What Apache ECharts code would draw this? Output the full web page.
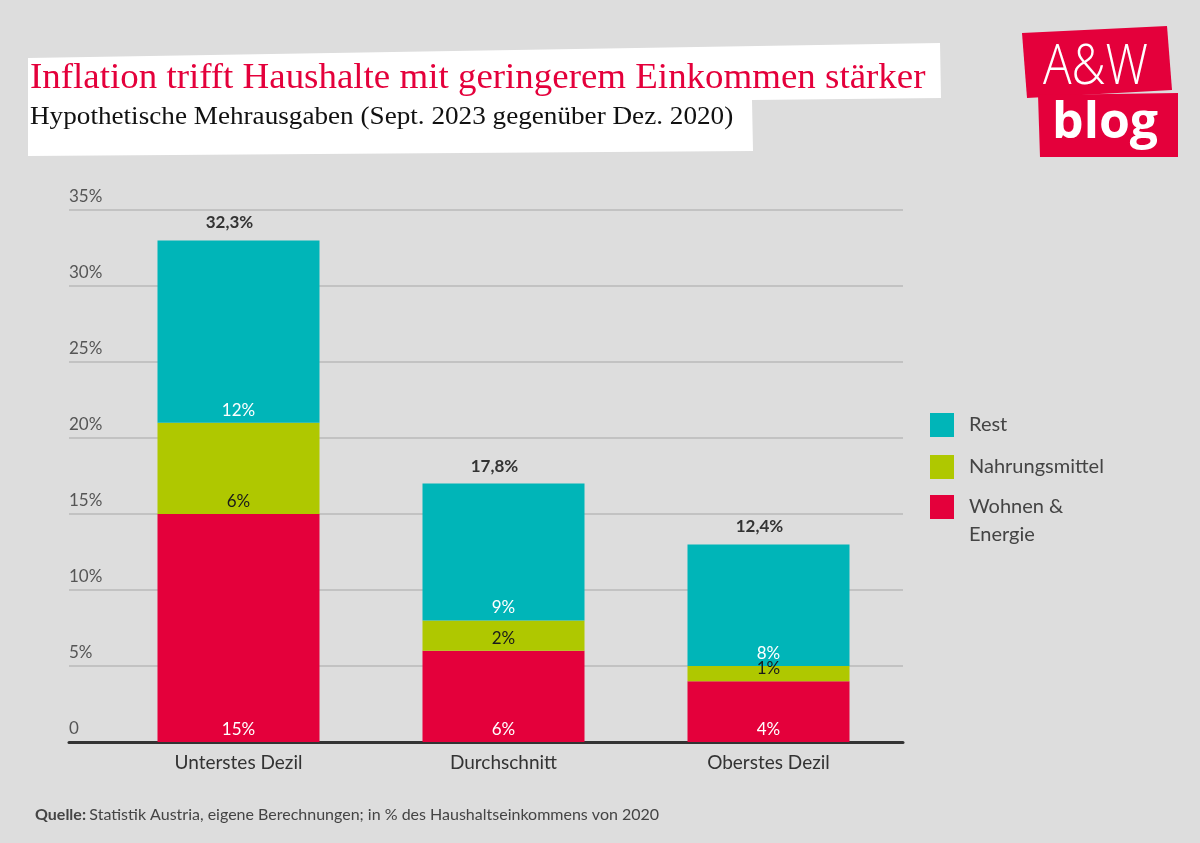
<!DOCTYPE html>
<html>
<head>
<meta charset="utf-8">
<script src="https://cdn.jsdelivr.net/npm/echarts@6/dist/echarts.min.js"></script>
<style>
html,body{margin:0;padding:0;background:#dddddd;}
#c{width:1200px;height:843px;}
</style>
</head>
<body>
<div id="c"></div>
<script>
const categories = ['Unterstes Dezil', 'Durchschnitt', 'Oberstes Dezil'];
const wohnenEnergie = [15, 6, 4];
const nahrungsmittel = [6, 2, 1];
const rest = [12, 9, 8];
const totals = [32.3, 17.8, 12.4];
const yTicks = [0, 5, 10, 15, 20, 25, 30, 35];

const FONT = 'Lato';
const RED = '#e4003b', GREEN = '#afc800', TEAL = '#00b5b8';

const chart = echarts.init(document.getElementById('c'), null, {renderer: 'canvas'});

function segLabel(color) {
  return {
    show: true, position: 'insideBottom', distance: 4,
    color: color, fontFamily: FONT, fontSize: 17,
    formatter: p => p.value + '%'
  };
}

const option = {
  backgroundColor: '#dddddd',
  animation: false,
  textStyle: {fontFamily: FONT},
  grid: [
    {left: 69, right: 297, top: 210, bottom: 101},
    {left: 106, right: 299, top: 210, bottom: 101}
  ],
  xAxis: [
    {gridIndex: 0, type: 'category', data: [''], axisLine: {show: true, lineStyle: {color: '#333', width: 3}},
     axisTick: {show: false}, axisLabel: {show: false}, splitLine: {show: false}},
    {gridIndex: 1, type: 'category', data: categories, axisLine: {show: false}, axisTick: {show: false},
     axisLabel: {color: '#333', fontSize: 19, fontFamily: FONT, margin: 11}}
  ],
  yAxis: [
    {gridIndex: 0, type: 'value', min: yTicks[0], max: yTicks[yTicks.length - 1], interval: 5,
     axisLine: {show: false}, axisTick: {show: false},
     splitLine: {show: true, lineStyle: {color: '#b9b9b9', width: 1.5}},
     axisLabel: {inside: true, align: 'left', verticalAlign: 'bottom', margin: 0, padding: [0, 0, 5, 0],
       color: '#555', fontSize: 17, fontFamily: FONT,
       formatter: v => v === 0 ? '0' : v + '%'}},
    {gridIndex: 1, type: 'value', min: yTicks[0], max: yTicks[yTicks.length - 1], interval: 5,
     show: false, splitLine: {show: false}}
  ],
  legend: [
    {
      orient: 'vertical', left: 925, top: 408,
      itemWidth: 24, itemHeight: 24, itemGap: 18, icon: 'rect',
      data: ['Rest', 'Nahrungsmittel'],
      textStyle: {fontFamily: FONT, fontSize: 20, color: '#444', padding: [0, 0, 0, 10], lineHeight: 24}
    },
    {
      orient: 'vertical', left: 925, top: 460,
      itemWidth: 24, itemHeight: 24, icon: 'rect',
      data: ['Wohnen & Energie'],
      formatter: () => '\nWohnen &\nEnergie',
      textStyle: {fontFamily: FONT, fontSize: 20, color: '#444', padding: [0, 0, 0, 10], lineHeight: 28}
    }
  ],
  series: [
    {name: 'Wohnen & Energie', type: 'bar', xAxisIndex: 1, yAxisIndex: 1, stack: 'a', barWidth: 162,
     data: wohnenEnergie, itemStyle: {color: RED}, label: segLabel('#ffffff')},
    {name: 'Nahrungsmittel', type: 'bar', xAxisIndex: 1, yAxisIndex: 1, stack: 'a', barWidth: 162,
     data: nahrungsmittel, itemStyle: {color: GREEN}, label: segLabel('#1a1a1a')},
    {name: 'Rest', type: 'bar', xAxisIndex: 1, yAxisIndex: 1, stack: 'a', barWidth: 162,
     data: rest, itemStyle: {color: TEAL}, label: segLabel('#ffffff')},
    {name: 'Gesamt', type: 'bar', xAxisIndex: 1, yAxisIndex: 1, stack: 'a', barWidth: 162,
     data: totals.map(() => 0), itemStyle: {color: 'rgba(0,0,0,0)'},
     label: {show: true, position: 'top', distance: 9, offset: [-9, 0], color: '#333', fontFamily: FONT, fontSize: 17, fontWeight: 'bold',
       formatter: p => totals[p.dataIndex].toFixed(1).replace('.', ',') + '%'}}
  ],
  graphic: [
    {type: 'polygon', shape: {points: [[28, 58], [940, 43], [941, 98], [752, 100], [753, 151], [28, 156]]},
     style: {fill: '#ffffff'}, z: 1},
    {type: 'text', x: 30, y: 61, scaleX: 1.055, z: 2,
     style: {text: 'Inflation trifft Haushalte mit geringerem Einkommen stärker', fill: RED,
       font: '35px "Liberation Serif"'}},
    {type: 'text', x: 30, y: 104, scaleX: 1.045, z: 2,
     style: {text: 'Hypothetische Mehrausgaben (Sept. 2023 gegenüber Dez. 2020)', fill: '#111',
       font: '26px "Liberation Serif"'}},
    {type: 'polygon', shape: {points: [[1022, 33], [1167, 26], [1172, 90], [1027, 98]]},
     style: {fill: RED}, z: 1},
    {type: 'polygon', shape: {points: [[1038, 95], [1178, 93], [1178, 157], [1040, 157]]},
     style: {fill: RED}, z: 1},
    {type: 'text', x: 1043, y: 40, scaleX: 0.85, z: 2,
     style: {text: 'A&W', fill: '#fff', font: '300 56px "Open Sans"'}},
    {type: 'text', x: 1052, y: 99, z: 2,
     style: {text: 'blog', fill: '#fff', font: 'bold 50px "Open Sans"'}},
    {type: 'text', left: 35, top: 807, z: 2,
     style: {rich: {b: {fontFamily: FONT, fontSize: 16, fontWeight: 'bold', fill: '#444'},
                    n: {fontFamily: FONT, fontSize: 16, fill: '#444'}},
             text: '{b|Quelle:} {n|Statistik Austria, eigene Berechnungen; in % des Haushaltseinkommens von 2020}'}}
  ]
};
chart.setOption(option);
</script>
</body>
</html>
